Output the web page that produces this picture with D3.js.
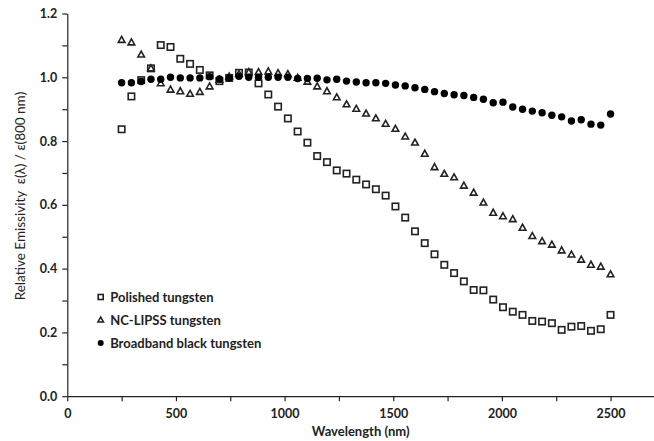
<!DOCTYPE html>
<html>
<head>
<meta charset="utf-8">
<script src="https://cdn.jsdelivr.net/npm/d3@7"></script>
<style>
  body { margin: 0; background: #fff; }
  #plot { width: 654px; height: 441px; }
  text { font-family: Lato, "Open Sans", sans-serif; }
</style>
</head>
<body>
<div id="plot"></div>
<script>
// wavelengths (nm) of the measurement points
const wavelengths = [250, 295, 340, 385, 430, 475, 520, 565, 610, 655, 700, 745, 790, 835, 880, 925, 970,
  1015, 1060, 1105, 1150, 1195, 1240, 1285, 1330, 1375, 1420, 1465, 1510, 1555, 1600, 1645, 1690,
  1735, 1780, 1825, 1870, 1915, 1960, 2005, 2050, 2095, 2140, 2185, 2230, 2275, 2320, 2365, 2410,
  2455, 2500];

const polished = [0.837, 0.940, 0.991, 1.028, 1.101, 1.095, 1.058, 1.042, 1.023, 1.006, 0.988, 0.998,
  1.014, 1.015, 0.981, 0.946, 0.908, 0.871, 0.830, 0.795, 0.753, 0.734, 0.708, 0.698, 0.679, 0.664,
  0.649, 0.629, 0.595, 0.560, 0.517, 0.480, 0.445, 0.412, 0.386, 0.360, 0.333, 0.332, 0.303, 0.279,
  0.265, 0.255, 0.236, 0.234, 0.229, 0.208, 0.218, 0.220, 0.205, 0.210, 0.255];

const ncLipss = [1.117, 1.109, 1.071, 1.028, 0.981, 0.961, 0.956, 0.948, 0.954, 0.971, 0.992, 1.002,
  1.010, 1.016, 1.016, 1.018, 1.013, 1.010, 0.998, 0.986, 0.971, 0.956, 0.937, 0.915, 0.901, 0.886,
  0.871, 0.854, 0.838, 0.814, 0.795, 0.760, 0.718, 0.697, 0.686, 0.660, 0.638, 0.607, 0.575, 0.564,
  0.555, 0.528, 0.502, 0.486, 0.475, 0.457, 0.444, 0.428, 0.412, 0.406, 0.382];

const broadband = [0.983, 0.983, 0.987, 0.994, 0.994, 1.000, 0.998, 0.998, 0.998, 1.002, 0.995, 0.998,
  1.003, 1.000, 1.000, 1.000, 1.000, 1.000, 0.996, 0.996, 0.997, 0.992, 0.994, 0.988, 0.985, 0.983,
  0.983, 0.981, 0.976, 0.973, 0.967, 0.962, 0.955, 0.949, 0.945, 0.943, 0.937, 0.931, 0.920, 0.922,
  0.907, 0.900, 0.894, 0.889, 0.881, 0.876, 0.863, 0.867, 0.853, 0.850, 0.885];

const seriesNames = ['Polished tungsten', 'NC-LIPSS tungsten', 'Broadband black tungsten'];
const xTicks = [0, 250, 500, 750, 1000, 1250, 1500, 1750, 2000, 2250, 2500];
const yTicks = [0, 0.1, 0.2, 0.3, 0.4, 0.5, 0.6, 0.7, 0.8, 0.9, 1.0, 1.1, 1.2];

const W = 654, H = 441;
const margin = { top: 13.5, right: 0, bottom: 44.8, left: 67.3 };
const width = W - margin.left - margin.right;
const height = H - margin.top - margin.bottom;

const svg = d3.select('#plot').append('svg').attr('width', W).attr('height', H);
const g = svg.append('g').attr('transform', `translate(${margin.left},${margin.top})`);

const x = d3.scaleLinear().domain([0, 2700]).range([0, width]);
const y = d3.scaleLinear().domain([0, 1.2]).range([height, 0]);

// axes
const xAxis = d3.axisBottom(x)
  .tickValues(xTicks)
  .tickSize(5)
  .tickSizeOuter(0)
  .tickFormat(d => (d % 500 === 0 ? d : ''));
const gx = g.append('g').attr('transform', `translate(0,${height})`).call(xAxis);
gx.select('.domain').attr('stroke', '#222').attr('stroke-width', 1.2);
gx.selectAll('.tick line').attr('stroke', '#222').attr('stroke-width', 1.2);
gx.selectAll('text').attr('font-size', '12.5px').attr('font-weight', 'bold').attr('fill', '#222').attr('dy', '1.1em');

const yAxis = d3.axisLeft(y)
  .tickValues(yTicks)
  .tickSize(5)
  .tickSizeOuter(0)
  .tickFormat(d => (Math.round(d * 10) % 2 === 0 ? d3.format('.1f')(d) : ''));
const gy = g.append('g').call(yAxis);
gy.select('.domain').attr('stroke', '#222').attr('stroke-width', 1.2);
gy.selectAll('.tick line').attr('stroke', '#222').attr('stroke-width', 1.2);
gy.selectAll('text').attr('font-size', '12.5px').attr('font-weight', 'bold').attr('fill', '#222').attr('x', -10);

// axis titles
svg.append('text')
  .attr('x', margin.left + x(1350))
  .attr('y', 436)
  .attr('text-anchor', 'middle')
  .attr('font-size', '13px')
  .attr('font-weight', 'bold')
  .attr('fill', '#222')
  .text('Wavelength (nm)');

svg.append('text')
  .attr('transform', 'translate(25,196) rotate(-90)')
  .attr('text-anchor', 'middle')
  .attr('font-size', '13.5px')
  .attr('fill', '#222')
  .attr('xml:space', 'preserve')
  .text('Relative Emissivity  ε(λ) / ε(800 nm)');

// markers
const sq = 6.4, tri = 6.6, rad = 3.7;

function drawSquare(sel, cx, cy, s) {
  sel.append('rect')
    .attr('x', cx - s / 2).attr('y', cy - s / 2)
    .attr('width', s).attr('height', s)
    .attr('fill', '#fff').attr('stroke', '#222').attr('stroke-width', 1.6);
}
function drawTriangle(sel, cx, cy, s) {
  const h = s * 0.9;
  sel.append('path')
    .attr('d', `M${cx},${cy - h * 0.6}L${cx + s / 2},${cy + h * 0.4}L${cx - s / 2},${cy + h * 0.4}Z`)
    .attr('fill', '#fff').attr('stroke', '#222').attr('stroke-width', 1.6).attr('stroke-linejoin', 'miter');
}
function drawCircle(sel, cx, cy, r) {
  sel.append('circle').attr('cx', cx).attr('cy', cy).attr('r', r).attr('fill', '#000');
}

const marks = g.append('g');
wavelengths.forEach((w, i) => drawSquare(marks, x(w), y(polished[i]), sq));
wavelengths.forEach((w, i) => drawTriangle(marks, x(w), y(ncLipss[i]), tri));
wavelengths.forEach((w, i) => drawCircle(marks, x(w), y(broadband[i]), rad));

// legend
const legend = svg.append('g');
const lx = 100.7, ly0 = 297, dy = 23;
drawSquare(legend, lx, ly0, 5);
drawTriangle(legend, lx, ly0 + dy, 5.5);
drawCircle(legend, lx, ly0 + 2 * dy, 3);
seriesNames.forEach((name, i) => {
  legend.append('text')
    .attr('x', lx + 9.5)
    .attr('y', ly0 + i * dy)
    .attr('dy', '0.35em')
    .attr('font-size', '13px')
    .attr('font-weight', 'bold')
    .attr('fill', '#222')
    .text(name);
});
</script>
</body>
</html>
